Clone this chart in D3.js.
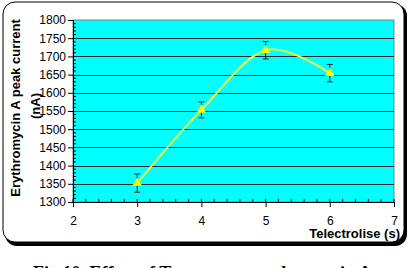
<!DOCTYPE html>
<html>
<head>
<meta charset="utf-8">
<script src="https://cdn.jsdelivr.net/npm/d3@7"></script>
<style>
  body { margin: 0; background: #fff; }
  svg { display: block; }
</style>
</head>
<body>
<div id="chart"></div>
<script>
// data
var times = [3, 4, 5, 6];
var current = [1352, 1553, 1717, 1654];
var errors = [25, 22, 24, 24];
var xTicks = [2, 3, 4, 5, 6, 7];
var yTicks = [1300, 1350, 1400, 1450, 1500, 1550, 1600, 1650, 1700, 1750, 1800];

var svgWidth = 410, svgHeight = 268;

var svg = d3.select("#chart")
  .append("svg")
  .attr("width", svgWidth)
  .attr("height", svgHeight);

// outer frame with shadow
svg.append("rect")
  .attr("x", 5).attr("y", 4)
  .attr("width", 402).attr("height", 242)
  .attr("rx", 12)
  .attr("fill", "#000");
svg.append("rect")
  .attr("x", 3).attr("y", 2)
  .attr("width", 401).attr("height", 240)
  .attr("rx", 12)
  .attr("fill", "#fff")
  .attr("stroke", "#000")
  .attr("stroke-width", 1);

var x = d3.scaleLinear().domain([2, 7]).range([73, 394]);
var y = d3.scaleLinear().domain([1300, 1800]).range([202, 20]);

// plot area
svg.append("rect")
  .attr("x", x(2)).attr("y", y(1800))
  .attr("width", x(7) - x(2)).attr("height", y(1300) - y(1800))
  .attr("fill", "#00ffff")
  .attr("stroke", "#808080")
  .attr("stroke-width", 1);

// gridlines
svg.append("g")
  .selectAll("line")
  .data(yTicks.filter(d => d > 1300 && d < 1800))
  .enter()
  .append("line")
  .attr("x1", x(2)).attr("x2", x(7))
  .attr("y1", d => Math.round(y(d)) + 0.5)
  .attr("y2", d => Math.round(y(d)) + 0.5)
  .attr("stroke", "#102a2a")
  .attr("stroke-width", 1);

var tickFont = "Liberation Sans, Arial, sans-serif";

// y axis
var yAxis = d3.axisLeft(y).tickValues(yTicks).tickFormat(d3.format("d")).tickSize(5).tickPadding(2);
var gy = svg.append("g")
  .attr("transform", `translate(${x(2)},0)`)
  .call(yAxis);
gy.select(".domain").attr("stroke", "#000");
gy.selectAll("text").attr("font-family", tickFont).attr("font-size", 12).attr("fill", "#000");

// y minor ticks (inside)
svg.append("g")
  .selectAll("line")
  .data(d3.range(1310, 1800, 10).filter(d => d % 50 != 0))
  .enter()
  .append("line")
  .attr("x1", x(2)).attr("x2", x(2) + 3)
  .attr("y1", d => y(d)).attr("y2", d => y(d))
  .attr("stroke", "#000");

// x axis
var xAxis = d3.axisBottom(x).tickValues(xTicks).tickFormat(d3.format("d")).tickSize(5).tickPadding(9);
var gx = svg.append("g")
  .attr("transform", `translate(0,${y(1300)})`)
  .call(xAxis);
gx.select(".domain").attr("stroke", "#000");
gx.selectAll("text").attr("font-family", tickFont).attr("font-size", 12).attr("fill", "#000");

// x minor ticks (inside)
svg.append("g")
  .selectAll("line")
  .data(d3.range(2, 7.01, 0.2))
  .enter()
  .append("line")
  .attr("x1", d => x(d)).attr("x2", d => x(d))
  .attr("y1", y(1300)).attr("y2", y(1300) - 3)
  .attr("stroke", "#000");

// smoothed line
var line = d3.line()
  .x((d, i) => x(times[i]))
  .y(d => y(d))
  .curve(d3.curveCardinal.tension(0));

svg.append("path")
  .datum(current)
  .attr("d", line)
  .attr("fill", "none")
  .attr("stroke", "#eeff44")
  .attr("stroke-width", 2);

// error bars
var eb = svg.append("g").attr("stroke", "#222").attr("stroke-width", 1);
times.forEach(function(t, i) {
  var cx = x(t);
  eb.append("line")
    .attr("x1", cx).attr("x2", cx)
    .attr("y1", y(current[i] - errors[i])).attr("y2", y(current[i] + errors[i]));
  [current[i] - errors[i], current[i] + errors[i]].forEach(function(v) {
    eb.append("line")
      .attr("x1", cx - 3).attr("x2", cx + 3)
      .attr("y1", y(v)).attr("y2", y(v));
  });
});

// markers
svg.append("g")
  .selectAll("path")
  .data(current)
  .enter()
  .append("path")
  .attr("d", d3.symbol().type(d3.symbolTriangle).size(40))
  .attr("transform", (d, i) => `translate(${x(times[i])},${y(d)})`)
  .attr("fill", "#ffff00");

// axis titles
var title = svg.append("text")
  .attr("transform", "translate(20,108) rotate(-90)")
  .attr("text-anchor", "middle")
  .attr("font-family", tickFont)
  .attr("font-weight", "bold")
  .attr("font-size", 13);
title.append("tspan").attr("x", 0).attr("y", 0).text("Erythromycin A peak current");
title.append("tspan").attr("x", 2).attr("y", 20).text("(nA)");

svg.append("text")
  .attr("x", 400).attr("y", 238)
  .attr("text-anchor", "end")
  .attr("font-family", tickFont)
  .attr("font-weight", "bold")
  .attr("font-size", 13)
  .text("Telectrolise (s)");

// caption (cut by the bottom edge, as in the figure)
var cap = svg.append("text")
  .attr("x", 33).attr("y", 279)
  .attr("font-family", "Liberation Serif, Times New Roman, serif")
  .attr("font-weight", "bold")
  .attr("font-size", 18);
cap.append("tspan").text("Fig.10. Effect of T");
cap.append("tspan").attr("font-size", 12).attr("dy", 4).text("electrolise");
cap.append("tspan").attr("dy", -4).text(" on erythromycin A");
</script>
</body>
</html>
